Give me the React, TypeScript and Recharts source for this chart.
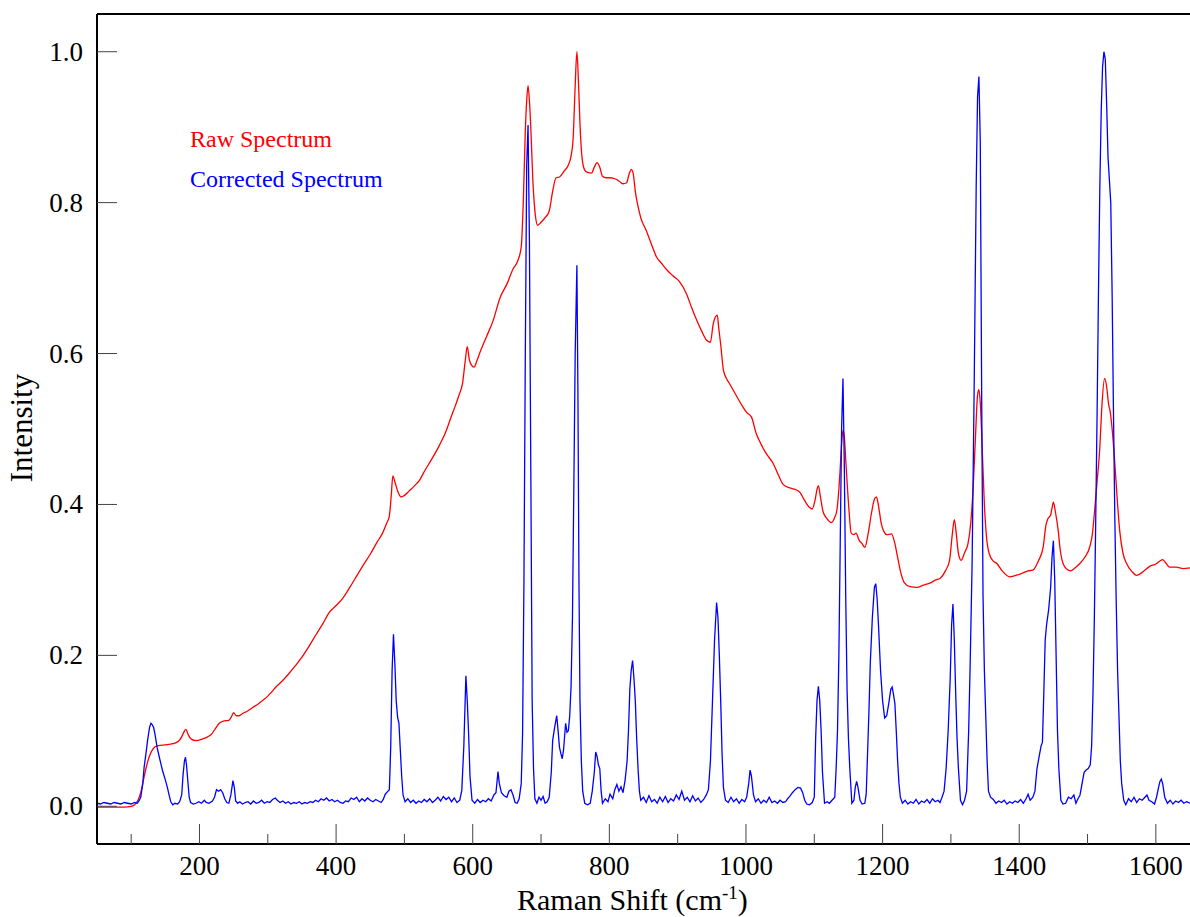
import React from 'react';
import { LineChart, Line, XAxis, YAxis, ReferenceLine } from 'recharts';

// Raman shift (cm-1) / intensity
const rawShift = [
  50, 70, 90, 100, 105, 110, 114, 119, 123, 127, 132, 138, 145, 155, 165, 172, 176, 180, 184, 188,
  195, 204, 212, 218, 224, 229, 235, 243, 247, 250, 254, 258, 263, 270, 278, 285, 292, 300, 306, 312,
  320, 332, 341, 351, 361, 371, 380, 390, 400, 410, 420, 430, 440, 450, 460, 468, 474, 478, 481, 483,
  486, 490, 495, 500, 507, 515, 522, 530, 540, 551, 560, 568, 575, 580, 585, 589, 592, 595, 598, 602,
  606, 610, 620, 630, 640, 650, 659, 666, 671, 674, 677, 679, 681, 683, 685, 688, 690, 692, 695, 700,
  705, 712, 717, 722, 727, 734, 740, 744, 747, 750, 752.5, 755, 757, 760, 764, 768, 774, 778, 782, 786,
  790, 795, 800, 810, 815, 820, 825, 829, 832, 835, 838, 842, 846, 854, 862, 869, 876, 884, 893, 903,
  913, 920, 927, 935, 942, 948, 952, 955, 958, 960, 963, 967, 972, 976, 986, 995, 1001, 1008, 1015, 1022,
  1030, 1040, 1047, 1054, 1064, 1072, 1079, 1086, 1092, 1097, 1101, 1104, 1106, 1109, 1113, 1118, 1125, 1130, 1133, 1136,
  1138, 1140, 1142, 1144, 1146, 1148, 1151, 1154, 1158, 1161, 1166, 1170, 1174, 1179, 1184, 1188, 1191, 1194, 1198, 1202,
  1206, 1213, 1218, 1222, 1226, 1232, 1240, 1250, 1260, 1270, 1278, 1284, 1292, 1298, 1302, 1305, 1308, 1311, 1315, 1320,
  1325, 1329, 1333, 1336, 1339, 1341, 1343, 1346, 1349, 1352, 1356, 1362, 1367, 1375, 1386, 1395, 1405, 1413, 1420, 1428,
  1435, 1439, 1442, 1446, 1448, 1450, 1453, 1457, 1460, 1464, 1470, 1475, 1482, 1489, 1496, 1503, 1507, 1510, 1514, 1518,
  1521, 1525, 1528, 1531, 1533, 1536, 1540, 1544, 1547, 1552, 1557, 1565, 1572, 1580, 1591, 1600, 1606, 1610, 1615, 1620,
  1630, 1640, 1650,
];
const rawIntensity = [
  -0.001, -0.001, -0.001, 0.0, 0.002, 0.008, 0.018, 0.039, 0.055, 0.067, 0.076, 0.08, 0.081, 0.082, 0.084, 0.089, 0.096, 0.102, 0.094, 0.089,
  0.087, 0.089, 0.092, 0.096, 0.104, 0.11, 0.113, 0.114, 0.119, 0.124, 0.12, 0.12, 0.123, 0.126, 0.131, 0.135, 0.14, 0.146, 0.152, 0.158,
  0.165, 0.177, 0.187, 0.199, 0.213, 0.228, 0.241, 0.257, 0.266, 0.276, 0.29, 0.305, 0.32, 0.334, 0.35, 0.362, 0.375, 0.385, 0.415, 0.438,
  0.43, 0.418, 0.41, 0.412, 0.418, 0.425, 0.432, 0.445, 0.46, 0.478, 0.495, 0.515, 0.532, 0.545, 0.56, 0.59, 0.609, 0.592, 0.585, 0.582,
  0.59, 0.6, 0.622, 0.644, 0.674, 0.692, 0.712, 0.723, 0.741, 0.8, 0.895, 0.935, 0.955, 0.935, 0.9, 0.83, 0.8, 0.781, 0.77, 0.774,
  0.779, 0.789, 0.815, 0.833, 0.834, 0.842, 0.85, 0.862, 0.885, 0.955, 1.0, 0.955, 0.905, 0.86, 0.843, 0.84, 0.839, 0.847, 0.853, 0.847,
  0.835, 0.833, 0.833, 0.831, 0.828, 0.825, 0.826, 0.838, 0.844, 0.838, 0.815, 0.795, 0.78, 0.763, 0.744, 0.728, 0.72, 0.711, 0.703, 0.695,
  0.679, 0.662, 0.646, 0.63, 0.618, 0.615, 0.639, 0.648, 0.651, 0.635, 0.612, 0.578, 0.566, 0.56, 0.544, 0.53, 0.522, 0.516, 0.494, 0.48,
  0.467, 0.454, 0.44, 0.427, 0.422, 0.42, 0.416, 0.405, 0.397, 0.394, 0.405, 0.42, 0.425, 0.41, 0.39, 0.382, 0.376, 0.383, 0.392, 0.42,
  0.449, 0.48, 0.498, 0.49, 0.46, 0.43, 0.39, 0.362, 0.36, 0.362, 0.352, 0.348, 0.343, 0.362, 0.39, 0.407, 0.41, 0.398, 0.375, 0.364,
  0.36, 0.361, 0.348, 0.33, 0.312, 0.296, 0.291, 0.29, 0.293, 0.296, 0.3, 0.302, 0.312, 0.326, 0.36, 0.38, 0.36, 0.335, 0.326, 0.336,
  0.348, 0.375, 0.43, 0.49, 0.545, 0.552, 0.535, 0.47, 0.4, 0.358, 0.335, 0.325, 0.322, 0.312, 0.304, 0.306, 0.309, 0.312, 0.313, 0.325,
  0.343, 0.372, 0.381, 0.386, 0.395, 0.403, 0.39, 0.366, 0.34, 0.322, 0.314, 0.312, 0.316, 0.322, 0.33, 0.343, 0.36, 0.388, 0.43, 0.476,
  0.53, 0.567, 0.556, 0.532, 0.524, 0.5, 0.454, 0.4, 0.366, 0.335, 0.322, 0.311, 0.306, 0.31, 0.318, 0.321, 0.325, 0.327, 0.322, 0.317,
  0.317, 0.315, 0.316,
];

// baseline-corrected spectrum
const corrShift = [
  50, 55, 60, 65, 70, 75, 80, 85, 90, 95, 100, 105, 109, 112, 114, 117, 119, 122, 124, 127,
  129, 131, 133, 135, 138, 142, 146, 150, 153, 156, 158, 161, 164, 168, 171, 174, 176, 178, 179.5, 181,
  183, 185, 187, 191, 195, 199, 203, 207, 210, 214, 219, 222, 225, 228, 231, 234, 237, 240, 243, 246,
  249, 251, 253, 256, 259, 263, 267, 271, 275, 279, 283, 287, 291, 295, 299, 303, 307, 311, 314, 318,
  322, 326, 330, 334, 338, 342, 346, 350, 354, 358, 362, 366, 370, 374, 378, 382, 386, 390, 394, 398,
  402, 406, 410, 414, 418, 422, 426, 430, 434, 438, 442, 446, 450, 454, 458, 462, 466, 469, 472, 475,
  478, 480, 482, 484, 486, 488, 490, 492, 494, 496, 498, 501, 505, 509, 513, 517, 521, 525, 529, 533,
  537, 541, 545, 549, 553, 557, 561, 565, 569, 573, 577, 581, 584, 587, 590, 592, 594, 596, 599, 603,
  607, 611, 615, 619, 623, 627, 631, 634, 637, 639, 642, 646, 650, 653, 656, 659, 662, 665, 668, 671,
  673, 675, 677, 679, 681, 683, 685, 687, 689, 691, 694, 697, 700, 703, 706, 709, 712, 715, 717, 720,
  723, 725, 727, 729, 731, 733, 736, 738, 740, 742, 744, 746, 748, 750, 752.5, 754, 755.5, 757, 759, 761,
  764, 768, 772, 775, 778, 780, 782, 784, 786, 788, 790, 794, 798, 801, 805, 808, 811, 814, 817, 820,
  823, 826, 828, 830, 832, 834, 836, 838, 840, 842, 844, 846, 850, 854, 858, 862, 866, 870, 874, 878,
  882, 886, 890, 894, 898, 902, 906, 910, 914, 918, 922, 926, 930, 934, 938, 942, 945, 948, 951, 954,
  957, 959, 961, 963, 965, 967, 970, 974, 978, 982, 986, 990, 994, 998, 1001, 1004, 1006, 1008, 1011, 1014,
  1018, 1022, 1026, 1030, 1034, 1038, 1042, 1046, 1050, 1054, 1058, 1061, 1064, 1068, 1072, 1076, 1080, 1083, 1086, 1089,
  1093, 1097, 1100, 1102, 1104, 1106, 1108, 1110, 1112, 1115, 1119, 1122, 1126, 1130, 1132, 1134, 1136, 1138, 1140, 1142,
  1144, 1146, 1148, 1150, 1152, 1155, 1158, 1160, 1162, 1164, 1167, 1170, 1174, 1176, 1178, 1180, 1182, 1185, 1188, 1190,
  1192, 1194, 1197, 1200, 1203, 1206, 1209, 1212, 1214, 1216, 1218, 1220, 1222, 1224, 1226, 1229, 1233, 1237, 1241, 1245,
  1249, 1253, 1257, 1261, 1265, 1269, 1273, 1277, 1281, 1284, 1287, 1290, 1293, 1296, 1299, 1301, 1303, 1305, 1307, 1309,
  1311, 1314, 1317, 1320, 1323, 1326, 1328, 1331, 1334, 1337, 1339, 1341, 1343, 1345, 1347, 1349, 1351, 1353, 1355, 1358,
  1362, 1366, 1370, 1374, 1378, 1382, 1386, 1390, 1394, 1398, 1402, 1406, 1410, 1413, 1416, 1420, 1423, 1426, 1429, 1432,
  1434, 1436, 1438, 1440, 1443, 1446, 1448, 1450, 1452, 1454, 1456, 1458, 1461, 1464, 1468, 1472, 1476, 1480, 1483, 1486,
  1489, 1492, 1495, 1498, 1501, 1504, 1506, 1508, 1510, 1512, 1514, 1516, 1518, 1520, 1522, 1524, 1526, 1528, 1530, 1532,
  1534, 1536, 1538, 1540, 1542, 1544, 1546, 1548, 1550, 1553, 1556, 1560, 1564, 1568, 1572, 1576, 1580, 1584, 1587, 1590,
  1594, 1598, 1601, 1604, 1606, 1608, 1610, 1613, 1617, 1621, 1625, 1629, 1633, 1637, 1641, 1645, 1650,
];
const corrIntensity = [
  0.004, 0.003, 0.005, 0.004, 0.003, 0.005, 0.004, 0.003, 0.005, 0.004, 0.003, 0.005, 0.004, 0.008, 0.012, 0.03, 0.052, 0.072, 0.087, 0.105,
  0.11, 0.108, 0.104, 0.095, 0.078, 0.062, 0.047, 0.035, 0.025, 0.013, 0.006, 0.002, 0.004, 0.003, 0.006, 0.015, 0.042, 0.06, 0.065, 0.055,
  0.033, 0.012, 0.005, 0.003, 0.004, 0.006, 0.004, 0.008, 0.005, 0.004, 0.007, 0.012, 0.022, 0.02, 0.022, 0.018, 0.01, 0.005, 0.004, 0.015,
  0.034, 0.025, 0.007, 0.004, 0.006, 0.003, 0.005, 0.006, 0.003, 0.007, 0.004, 0.005, 0.008, 0.004, 0.006, 0.005, 0.009, 0.011, 0.008, 0.005,
  0.007, 0.004, 0.006, 0.003, 0.005, 0.004, 0.006, 0.003, 0.005, 0.004, 0.006, 0.005, 0.008, 0.006, 0.01, 0.008, 0.011, 0.007, 0.009, 0.006,
  0.008, 0.005, 0.004, 0.007, 0.006, 0.011, 0.009, 0.012, 0.006, 0.01, 0.007, 0.011, 0.008, 0.006, 0.009, 0.007, 0.005, 0.009, 0.016, 0.019,
  0.022, 0.08, 0.18, 0.228, 0.19, 0.14, 0.118, 0.11, 0.075, 0.04, 0.015, 0.006, 0.01, 0.005, 0.008, 0.004, 0.007, 0.005, 0.009, 0.006,
  0.01, 0.005, 0.008, 0.012, 0.007, 0.013, 0.009, 0.012, 0.006, 0.011, 0.005, 0.008, 0.021, 0.08, 0.173, 0.14, 0.096, 0.04, 0.008, 0.004,
  0.009, 0.005, 0.008, 0.006, 0.01, 0.007, 0.015, 0.018, 0.046, 0.03, 0.018, 0.014, 0.012, 0.02, 0.022, 0.015, 0.005, 0.004, 0.01, 0.03,
  0.096, 0.3, 0.6, 0.85, 0.903, 0.75, 0.45, 0.14, 0.05, 0.01, 0.004, 0.012, 0.008, 0.013, 0.004, 0.006, 0.012, 0.045, 0.087, 0.105,
  0.12, 0.1, 0.078, 0.07, 0.063, 0.075, 0.11, 0.098, 0.1, 0.12, 0.16, 0.25, 0.42, 0.6, 0.717, 0.55, 0.3, 0.14, 0.06, 0.02,
  0.004, 0.002, 0.004, 0.02, 0.045, 0.072, 0.066, 0.055, 0.05, 0.02, 0.004, 0.01, 0.006, 0.016, 0.01, 0.022, 0.029, 0.02, 0.026, 0.018,
  0.034, 0.06, 0.1, 0.155, 0.18, 0.193, 0.17, 0.14, 0.09, 0.05, 0.02, 0.008, 0.012, 0.005, 0.014, 0.006, 0.009, 0.004, 0.012, 0.006,
  0.013, 0.005, 0.01, 0.007, 0.015, 0.009, 0.02, 0.008, 0.012, 0.006, 0.014, 0.007, 0.011, 0.005, 0.009, 0.015, 0.022, 0.06, 0.14, 0.22,
  0.27, 0.25, 0.2, 0.14, 0.07, 0.025, 0.008, 0.005, 0.012, 0.006, 0.01, 0.004, 0.009, 0.006, 0.012, 0.03, 0.048, 0.04, 0.015, 0.006,
  0.01, 0.004, 0.008, 0.005, 0.012, 0.005, 0.007, 0.004, 0.008, 0.005, 0.006, 0.01, 0.013, 0.018, 0.022, 0.025, 0.024, 0.018, 0.008, 0.003,
  0.002, 0.005, 0.012, 0.09, 0.14, 0.159, 0.14, 0.1, 0.045, 0.004, 0.006, 0.004, 0.008, 0.012, 0.05, 0.1, 0.2, 0.35, 0.5, 0.567,
  0.45, 0.28, 0.154, 0.09, 0.05, 0.004, 0.008, 0.025, 0.033, 0.025, 0.008, 0.003, 0.004, 0.016, 0.07, 0.125, 0.19, 0.25, 0.29, 0.295,
  0.275, 0.24, 0.18, 0.14, 0.117, 0.12, 0.136, 0.155, 0.158, 0.148, 0.136, 0.1, 0.06, 0.03, 0.012, 0.004, 0.008, 0.003, 0.006, 0.004,
  0.009, 0.003, 0.007, 0.005, 0.009, 0.004, 0.01, 0.006, 0.008, 0.005, 0.012, 0.02, 0.05, 0.1, 0.17, 0.24, 0.268, 0.22, 0.15, 0.09,
  0.05, 0.008, 0.002, 0.008, 0.02, 0.1, 0.18, 0.32, 0.55, 0.82, 0.94, 0.967, 0.88, 0.55, 0.28, 0.18, 0.12, 0.06, 0.02, 0.012,
  0.009, 0.004, 0.007, 0.005, 0.008, 0.003, 0.006, 0.004, 0.007, 0.005, 0.009, 0.004, 0.01, 0.016, 0.008, 0.012, 0.02, 0.05, 0.065, 0.08,
  0.085, 0.15, 0.22, 0.24, 0.26, 0.29, 0.33, 0.352, 0.3, 0.2, 0.1, 0.05, 0.008, 0.003, 0.004, 0.012, 0.01, 0.015, 0.004, 0.01,
  0.015, 0.03, 0.045, 0.048, 0.05, 0.055, 0.08, 0.15, 0.25, 0.38, 0.52, 0.68, 0.82, 0.92, 0.98, 1.0, 0.99, 0.93, 0.86, 0.83,
  0.8, 0.68, 0.52, 0.38, 0.27, 0.18, 0.12, 0.06, 0.03, 0.008, 0.002, 0.01, 0.006, 0.012, 0.005, 0.01, 0.008, 0.012, 0.015, 0.008,
  0.006, 0.003, 0.012, 0.025, 0.033, 0.036, 0.03, 0.012, 0.004, 0.008, 0.003, 0.007, 0.005, 0.008, 0.004, 0.006, 0.004,
];

const xTicks = [100, 200, 300, 400, 500, 600, 700, 800, 900, 1000, 1100, 1200, 1300, 1400, 1500, 1600];
const yTicks = [0, 0.2, 0.4, 0.6, 0.8, 1.0];

const rawData = rawShift.map((x, i) => ({ x, y: rawIntensity[i] }));
const corrData = corrShift.map((x, i) => ({ x, y: corrIntensity[i] }));

const FONT = '"Liberation Serif", "Times New Roman", serif';

const XTick = ({ x, y, payload }: any) => {
  const major = payload.value % 200 === 0;
  return (
    <g>
      <line x1={x} x2={x} y1={y} y2={y - (major ? 20 : 10)} stroke="#444" strokeWidth={1} />
      {major && (
        <text x={x} y={y + 31} textAnchor="middle" fontSize={27} fontFamily={FONT} fill="#000">
          {payload.value}
        </text>
      )}
    </g>
  );
};

const YTick = ({ x, y, payload }: any) => (
  <g>
    <line x1={x} x2={x + 20} y1={y} y2={y} stroke="#444" strokeWidth={1} />
    <text x={x - 14} y={y + 9} textAnchor="end" fontSize={27} fontFamily={FONT} fill="#000">
      {Number(payload.value).toFixed(1)}
    </text>
  </g>
);

export default function App() {
  return (
    <div style={{ position: 'absolute', left: 0, top: 0, width: 1190, height: 917, background: '#fff' }}>
      <LineChart width={1190} height={917} margin={{ top: 14, right: 0, bottom: 0, left: 0 }}>
        <XAxis
          type="number"
          dataKey="x"
          domain={[50, 1650]}
          ticks={xTicks}
          interval={0}
          height={73}
          tickSize={0}
          tickMargin={0}
          tickLine={false}
          tick={<XTick />}
          axisLine={{ stroke: '#000', strokeWidth: 2 }}
          allowDataOverflow
        />
        <YAxis
          type="number"
          dataKey="y"
          domain={[-0.05, 1.05]}
          ticks={yTicks}
          interval={0}
          width={97}
          tickSize={0}
          tickMargin={0}
          tickLine={false}
          tick={<YTick />}
          axisLine={{ stroke: '#000', strokeWidth: 2 }}
          allowDataOverflow
        />
        <ReferenceLine y={1.05} stroke="#000" strokeWidth={2} />
        <Line
          data={rawData}
          dataKey="y"
          type="monotone"
          stroke="#ff0000"
          strokeWidth={1.3}
          dot={false}
          isAnimationActive={false}
        />
        <Line
          data={corrData}
          dataKey="y"
          type="linear"
          stroke="#0000ff"
          strokeWidth={1.3}
          dot={false}
          isAnimationActive={false}
        />
      </LineChart>
      <svg
        width={1190}
        height={917}
        style={{ position: 'absolute', left: 0, top: 0, pointerEvents: 'none' }}
        fontFamily={FONT}
      >
        <text x={190} y={146.7} fontSize={24} fill="#ff0000">Raw Spectrum</text>
        <text x={190} y={186.7} fontSize={24} fill="#0000ff">Corrected Spectrum</text>
        <text x={31.5} y={428} fontSize={31} textAnchor="middle" transform="rotate(-90 31.5 428)">
          Intensity
        </text>
        <text x={517} y={909.5} fontSize={30}>
          Raman Shift (cm
          <tspan fontSize={19} dy={-11}>-1</tspan>
          <tspan dy={11}>)</tspan>
        </text>
      </svg>
    </div>
  );
}
